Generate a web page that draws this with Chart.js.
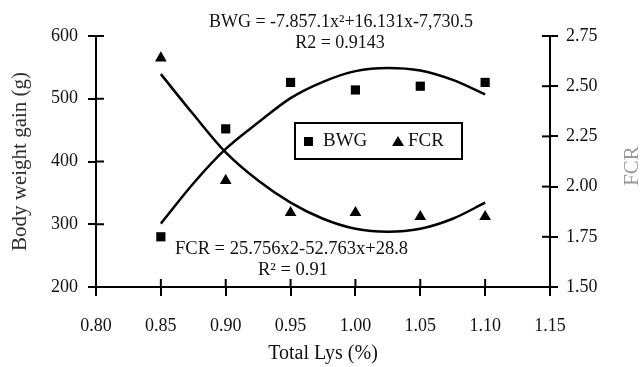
<!DOCTYPE html>
<html><head><meta charset="utf-8">
<script src="https://cdn.jsdelivr.net/npm/chart.js@4"></script>
<style>html,body{margin:0;padding:0;background:#fff;}canvas{display:block;}</style>
</head><body>
<canvas id="c" width="643" height="367"></canvas>
<script>
// ---- data ----
const lysLevels = [0.85, 0.90, 0.95, 1.00, 1.05, 1.10];
const bwgValues = [280, 452, 526, 514, 520, 526];
const fcrValues = [2.64, 2.03, 1.87, 1.87, 1.85, 1.85];
const trendLys  = [0.85, 0.875, 0.90, 0.925, 0.95, 0.975, 1.00, 1.025, 1.05, 1.075, 1.10];
const bwgTrend  = [301, 365, 420, 462, 501, 527, 544, 549, 545, 530, 507];
const fcrTrend  = [2.56, 2.36, 2.17, 2.03, 1.92, 1.84, 1.79, 1.775, 1.79, 1.84, 1.92];
const xTicks    = [0.80, 0.85, 0.90, 0.95, 1.00, 1.05, 1.10, 1.15];
const bwgTicks  = [200, 300, 400, 500, 600];
const fcrTicks  = [1.50, 1.75, 2.00, 2.25, 2.50, 2.75];
const seriesNames = ['BWG', 'FCR'];
const xTitle = 'Total Lys (%)';
const leftTitle = 'Body weight gain (g)';
const rightTitle = 'FCR';
const bwgEquation = 'BWG = -7.857.1x²+16.131x-7,730.5';
const bwgR2 = 'R2 = 0.9143';
const fcrEquation = 'FCR = 25.756x2-52.763x+28.8';
const fcrR2 = 'R² = 0.91';

const SERIF = '"Liberation Serif", "Times New Roman", serif';
const pts = (xs, ys) => xs.map((x, i) => ({x: x, y: ys[i]}));

const tickMarks = {
  id: 'tickMarks',
  afterDraw(chart) {
    const ctx = chart.ctx, ca = chart.chartArea;
    ctx.save();
    ctx.strokeStyle = '#000'; ctx.lineWidth = 2;
    const sx = chart.scales.x, sy = chart.scales.y, sy1 = chart.scales.y1;
    sx.ticks.forEach(t => { const p = sx.getPixelForValue(t.value);
      ctx.beginPath(); ctx.moveTo(p, ca.bottom); ctx.lineTo(p, ca.bottom - 8); ctx.stroke(); });
    sy.ticks.forEach(t => { const p = sy.getPixelForValue(t.value);
      ctx.beginPath(); ctx.moveTo(ca.left, p); ctx.lineTo(ca.left + 8, p); ctx.stroke(); });
    sy1.ticks.forEach(t => { const p = sy1.getPixelForValue(t.value);
      ctx.beginPath(); ctx.moveTo(ca.right, p); ctx.lineTo(ca.right - 8, p); ctx.stroke(); });
    ctx.restore();
  }
};

const annotations = {
  id: 'annotations',
  afterDraw(chart) {
    const ctx = chart.ctx, ca = chart.chartArea;
    ctx.save();
    ctx.fillStyle = '#111';
    ctx.textBaseline = 'middle';
    ctx.font = '18px ' + SERIF;
    ctx.textAlign = 'center';
    ctx.fillText(bwgEquation, ca.left + 245, 22);
    ctx.fillText(bwgR2, ca.left + 244, 43);
    ctx.textAlign = 'left';
    ctx.font = '18.5px ' + SERIF;
    ctx.fillText(fcrEquation, ca.left + 79, 249);
    ctx.fillText(fcrR2, ca.left + 162, 270);

    // legend box
    const lx = ca.left + 199, ly = 123, lw = 167, lh = 36;
    ctx.lineWidth = 2; ctx.strokeStyle = '#000';
    ctx.strokeRect(lx, ly, lw, lh);
    ctx.fillStyle = '#000';
    ctx.fillRect(lx + 9, ly + 14, 9, 9);
    ctx.beginPath();
    ctx.moveTo(lx + 103, ly + 13); ctx.lineTo(lx + 109, ly + 23); ctx.lineTo(lx + 97, ly + 23); ctx.closePath(); ctx.fill();
    ctx.fillStyle = '#111';
    ctx.font = '19px ' + SERIF;
    ctx.fillText(seriesNames[0], lx + 28, ly + 18);
    ctx.fillText(seriesNames[1], lx + 113, ly + 18);

    // axis titles
    ctx.filter = 'blur(0.5px)';
    ctx.font = '21px ' + SERIF;
    ctx.textAlign = 'center';
    ctx.fillStyle = '#2e2e2e';
    ctx.save();
    ctx.translate(20, (ca.top + ca.bottom) / 2);
    ctx.rotate(-Math.PI / 2);
    ctx.fillText(leftTitle, 0, 0);
    ctx.restore();
    ctx.fillStyle = '#9a9a9a';
    ctx.font = '21px ' + SERIF;
    ctx.save();
    ctx.translate(632, 166);
    ctx.rotate(-Math.PI / 2);
    ctx.fillText(rightTitle, 0, 0);
    ctx.restore();
    ctx.filter = 'none';
    ctx.fillStyle = '#111';
    ctx.font = '20px ' + SERIF;
    ctx.fillText(xTitle, (ca.left + ca.right) / 2, 354);
    ctx.restore();
  }
};

const tickFont = {family: SERIF, size: 18};
new Chart(document.getElementById('c'), {
  type: 'scatter',
  data: {
    datasets: [
      {label: seriesNames[0], data: pts(lysLevels, bwgValues), yAxisID: 'y',
       pointStyle: 'rect', pointRadius: 6.5, pointHoverRadius: 6.5,
       backgroundColor: '#000', borderColor: '#000', borderWidth: 0, showLine: false},
      {label: seriesNames[1], data: pts(lysLevels, fcrValues), yAxisID: 'y1',
       pointStyle: 'triangle', pointRadius: 6.8, pointHoverRadius: 6.8,
       backgroundColor: '#000', borderColor: '#000', borderWidth: 0, showLine: false},
      {label: 'BWG trend', data: pts(trendLys, bwgTrend), yAxisID: 'y',
       showLine: true, pointRadius: 0, borderColor: '#000', borderWidth: 2.5,
       cubicInterpolationMode: 'monotone', fill: false},
      {label: 'FCR trend', data: pts(trendLys, fcrTrend), yAxisID: 'y1',
       showLine: true, pointRadius: 0, borderColor: '#000', borderWidth: 2.5,
       cubicInterpolationMode: 'monotone', fill: false}
    ]
  },
  options: {
    responsive: false, animation: false, devicePixelRatio: 1,
    layout: {padding: {top: 36, left: 0, right: 0, bottom: 0}},
    plugins: {legend: {display: false}, tooltip: {enabled: false}},
    scales: {
      x: {
        type: 'linear', min: 0.80, max: 1.15,
        afterBuildTicks: s => { s.ticks = xTicks.map(v => ({value: v})); },
        afterFit: s => { s.height = 80; },
        border: {display: true, color: '#000', width: 2},
        grid: {display: true, drawOnChartArea: false, drawTicks: true, tickLength: 9, color: '#000', lineWidth: 2},
        ticks: {font: tickFont, color: '#111', padding: 19, maxRotation: 0, autoSkip: false,
                callback: v => Number(v).toFixed(2)}
      },
      y: {
        position: 'left', min: 200, max: 600,
        afterBuildTicks: s => { s.ticks = bwgTicks.map(v => ({value: v})); },
        afterFit: s => { s.width = 96; },
        border: {display: true, color: '#000', width: 2},
        grid: {display: true, drawOnChartArea: false, drawTicks: true, tickLength: 8, color: '#000', lineWidth: 2},
        ticks: {font: tickFont, color: '#111', padding: 10, callback: v => String(v)}
      },
      y1: {
        position: 'right', min: 1.50, max: 2.75,
        afterBuildTicks: s => { s.ticks = fcrTicks.map(v => ({value: v})); },
        afterFit: s => { s.width = 93; },
        border: {display: true, color: '#000', width: 2},
        grid: {display: true, drawOnChartArea: false, drawTicks: true, tickLength: 8, color: '#000', lineWidth: 2},
        ticks: {font: tickFont, color: '#111', padding: 8, callback: v => Number(v).toFixed(2)}
      }
    }
  },
  plugins: [tickMarks, annotations]
});
</script>
</body></html>
